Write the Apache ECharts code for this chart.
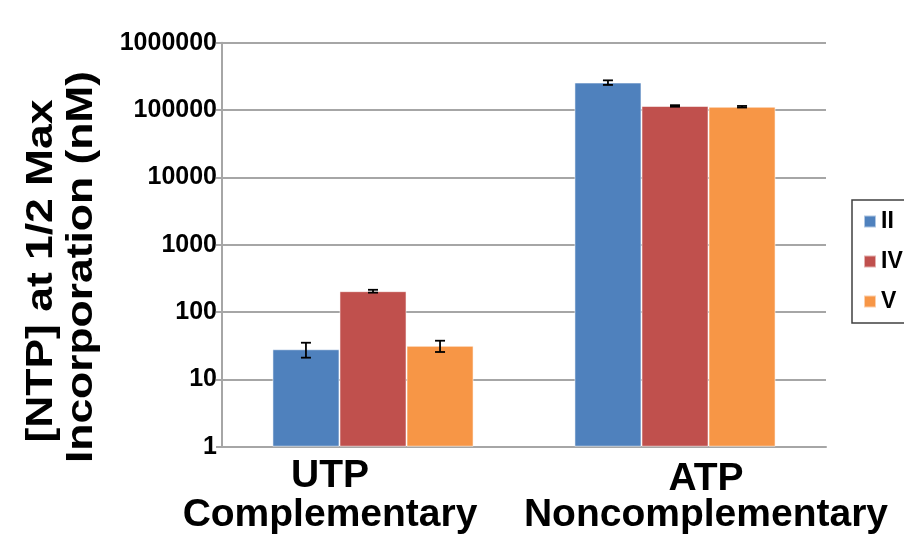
<!DOCTYPE html>
<html>
<head>
<meta charset="utf-8">
<script src="https://cdn.jsdelivr.net/npm/echarts@6/dist/echarts.min.js"></script>
<style>
  html, body { margin: 0; padding: 0; background: #ffffff; }
  #chart { width: 904px; height: 546px; }
</style>
</head>
<body>
<div id="chart"></div>
<script>
// Nucleotide tested and whether it pairs with the template base
const nucleotides = ['UTP', 'ATP'];
const pairing = ['Complementary', 'Noncomplementary'];

// Enzyme variants
const variantNames = ['II', 'IV', 'V'];

// [NTP] giving half-maximal incorporation (nM), per nucleotide
const valuesII = [28, 256000];
const valuesIV = [204, 115000];
const valuesV = [31.5, 112000];

// Standard error for each bar (nM)
const errorsII = [7, 20000];
const errorsIV = [10, 3000];
const errorsV = [6, 3000];

const yTitleLines = ['[NTP] at 1/2 Max', 'Incorporation (nM)'];

const colors = ['#4F81BD', '#C0504D', '#F79646'];
const FONT = '"Liberation Sans", Arial, sans-serif';
const CATEGORY_GAP = 0.334;

const allValues = [valuesII, valuesIV, valuesV];
const allErrors = [errorsII, errorsIV, errorsV];

const chart = echarts.init(document.getElementById('chart'), null, { renderer: 'canvas' });

const barSeries = variantNames.map((name, k) => ({
  name: name,
  type: 'bar',
  data: allValues[k],
  barGap: '0%',
  barCategoryGap: (CATEGORY_GAP * 100) + '%',
  itemStyle: { color: colors[k], borderColor: 'rgba(255,255,255,0.55)', borderWidth: 1 },
  z: 2
}));

// Error bars drawn over each bar, offset within its category group
const errorSeries = variantNames.map((name, k) => ({
  name: name + ' error',
  type: 'custom',
  data: allValues[k].map((v, i) => [i, v, allErrors[k][i]]),
  encode: { x: 0, y: 1 },
  z: 5,
  silent: true,
  renderItem: function (params, api) {
    const idx = api.value(0);
    const val = api.value(1);
    const err = api.value(2);
    const band = Math.abs(api.coord([1, val])[0] - api.coord([0, val])[0]);
    const barWidth = band * (1 - CATEGORY_GAP) / 3;
    const x = api.coord([idx, val])[0] + (k - 1) * barWidth;
    const yHigh = api.coord([idx, val + err])[1];
    const yLow = api.coord([idx, val - err])[1];
    const half = 5;
    const style = { stroke: '#000000', lineWidth: 1.8, fill: null };
    return {
      type: 'group',
      children: [
        { type: 'line', shape: { x1: x, y1: yHigh, x2: x, y2: yLow }, style: style },
        { type: 'line', shape: { x1: x - half, y1: yHigh, x2: x + half, y2: yHigh }, style: style },
        { type: 'line', shape: { x1: x - half, y1: yLow, x2: x + half, y2: yLow }, style: style }
      ]
    };
  }
}));

const labelFont = { fontFamily: FONT, fontSize: 39, fontWeight: 'bold', color: '#000', lineHeight: 39 };

const option = {
  backgroundColor: '#ffffff',
  animation: false,
  textStyle: { fontFamily: FONT },
  grid: { left: 222, right: 78, top: 42.7, bottom: 99.3, containLabel: false },
  legend: {
    data: variantNames,
    orient: 'vertical',
    left: 852,
    top: 200,
    icon: 'rect',
    itemWidth: 12,
    itemHeight: 12,
    itemGap: 17,
    padding: [10, 40, 10, 11],
    borderColor: '#404040',
    borderWidth: 1.5,
    textStyle: { fontFamily: FONT, fontSize: 23, fontWeight: 'bold', color: '#000000', lineHeight: 22 }
  },
  xAxis: {
    type: 'category',
    data: nucleotides,
    axisLine: { show: true, lineStyle: { color: '#A6A6A6', width: 2 } },
    axisTick: { show: false },
    splitLine: { show: false },
    axisLabel: {
      interval: 0,
      margin: 10,
      color: '#000000',
      fontFamily: FONT,
      fontSize: 39,
      fontWeight: 'bold',
      lineHeight: 39,
      formatter: function (value, index) {
        if (index === 0) {
          return '{u|' + value + '}\n{u|' + pairing[index] + '}';
        }
        return '{a1|' + value + '}\n{a2|' + pairing[index] + '}';
      },
      rich: {
        u: Object.assign({}, labelFont, { padding: [0, 86, 0, 0] }),
        a1: Object.assign({}, labelFont, { padding: [6, 0, 0, 62] }),
        a2: Object.assign({}, labelFont, { padding: [0, 0, 0, 62] })
      }
    }
  },
  yAxis: {
    type: 'log',
    logBase: 10,
    min: 1,
    max: 1000000,
    axisLine: { show: true, lineStyle: { color: '#A6A6A6', width: 2 } },
    axisTick: { show: true, length: 6, lineStyle: { color: '#A6A6A6', width: 2 } },
    splitLine: { show: true, lineStyle: { color: '#A6A6A6', width: 2 } },
    minorTick: { show: false },
    axisLabel: {
      margin: 5,
      color: '#000000',
      fontFamily: FONT,
      fontSize: 25,
      fontWeight: 'bold',
      formatter: function (v) { return String(Math.round(v)); }
    }
  },
  graphic: [
    {
      type: 'text',
      x: 41.5, y: 271,
      rotation: Math.PI / 2,
      scaleX: 1.2,
      style: { text: yTitleLines[0], font: 'bold 37px ' + FONT, fill: '#000', align: 'center', verticalAlign: 'middle' }
    },
    {
      type: 'text',
      x: 81.5, y: 267,
      rotation: Math.PI / 2,
      scaleX: 1.2,
      style: { text: yTitleLines[1], font: 'bold 37px ' + FONT, fill: '#000', align: 'center', verticalAlign: 'middle' }
    }
  ],
  series: barSeries.concat(errorSeries)
};

chart.setOption(option);
</script>
</body>
</html>
